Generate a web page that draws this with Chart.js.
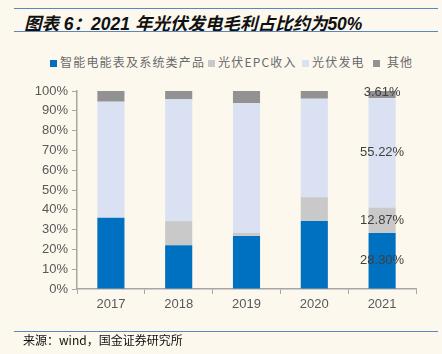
<!DOCTYPE html>
<html>
<head>
<meta charset="utf-8">
<script src="https://cdn.jsdelivr.net/npm/chart.js@4"></script>
<style>
  html, body { margin: 0; padding: 0; }
  body { width: 442px; height: 354px; background: #fcf8ee; position: relative; overflow: hidden;
         font-family: "Liberation Sans", "Noto Sans CJK SC", sans-serif; }
  .rule { position: absolute; left: 14px; width: 424px; height: 0; border-top: 1.5px solid #5b86c4; }
  #title { position: absolute; left: 24px; top: 10px; font-size: 17.5px; font-weight: bold; font-style: italic;
           font-family: "Liberation Sans", "Noto Sans CJK SC", sans-serif; color: #111; white-space: nowrap; }
  .lg { position: absolute; top: 53px; font-size: 12px; letter-spacing: 1.2px; color: #6a6a6a;
        font-family: "Noto Sans CJK SC", sans-serif; white-space: nowrap; }
  .lg i { display: inline-block; width: 7px; height: 7px; margin-right: 3px; vertical-align: 0px; }
  #source { position: absolute; left: 23px; top: 331px; font-size: 12px; color: #111;
            font-family: "Noto Sans CJK SC", sans-serif; white-space: nowrap; }
  #wrap { position: absolute; left: 0; top: 0; width: 442px; height: 354px; }
</style>
</head>
<body>
<div class="rule" style="top:8px"></div>
<div id="title">图表 6：2021 年光伏发电毛利占比约为50%</div>
<div class="rule" style="top:31px"></div>
<div id="legend"></div>
<div id="wrap"><canvas id="chart" width="442" height="354"></canvas></div>
<div class="rule" style="top:331px"></div>
<div id="source">来源：wind，国金证券研究所</div>

<script>
// Categories and series (share of gross profit, %)
const years = ['2017', '2018', '2019', '2020', '2021'];
const meterShare = [36.0, 22.1, 26.8, 34.3, 28.30];
const epcShare = [0, 12.2, 1.5, 12.1, 12.87];
const pvShare = [58.6, 61.5, 65.5, 49.7, 55.22];
const otherShare = [5.4, 4.2, 6.2, 3.9, 3.61];
const seriesNames = ['智能电能表及系统类产品', '光伏EPC收入', '光伏发电', '其他'];
const seriesColors = ['#0070c0', '#c9c9c9', '#dae1f3', '#929292'];
const yTicks = [0, 10, 20, 30, 40, 50, 60, 70, 80, 90, 100];

// HTML legend, placed like the original
const legendX = [50, 208, 302, 373];
const legendEl = document.getElementById('legend');
seriesNames.forEach((name, i) => {
  const d = document.createElement('div');
  d.className = 'lg';
  d.style.left = legendX[i] + 'px';
  d.innerHTML = '<i style="background:' + seriesColors[i] + '"></i>' + (i === 3 ? ' ' : '') + name;
  legendEl.appendChild(d);
});

// Labels only on the last bar
const lastBarLabels = {
  id: 'lastBarLabels',
  afterDatasetsDraw(chart) {
    const ctx = chart.ctx;
    const idx = years.length - 1;
    ctx.save();
    ctx.font = '13px "Liberation Sans", Arial, sans-serif';
    ctx.fillStyle = '#404040';
    ctx.textAlign = 'center';
    ctx.textBaseline = 'middle';
    chart.data.datasets.forEach((ds, i) => {
      const bar = chart.getDatasetMeta(i).data[idx];
      const v = ds.data[idx];
      if (!bar || !v) return;
      const y = (bar.y + bar.base) / 2;
      ctx.fillText(v.toFixed(2) + '%', bar.x, i === 3 ? y - 2 : y);
    });
    ctx.restore();
  }
};

const datasets = [meterShare, epcShare, pvShare, otherShare].map((data, i) => ({
  label: seriesNames[i],
  data,
  backgroundColor: seriesColors[i],
  borderWidth: 0,
  categoryPercentage: 1,
  barPercentage: 0.4
}));

const axisColor = '#a6a6a6';
const tickFont = { family: '"Liberation Sans", Arial, sans-serif', size: 13 };

new Chart(document.getElementById('chart').getContext('2d'), {
  type: 'bar',
  data: { labels: years, datasets },
  options: {
    responsive: false,
    animation: false,
    layout: { padding: { left: 0, right: 26, top: 91, bottom: 0 } },
    plugins: { legend: { display: false }, tooltip: { enabled: false } },
    scales: {
      x: {
        stacked: true,
        grid: { offset: true, drawOnChartArea: false, tickLength: 5, color: axisColor },
        border: { color: axisColor, width: 1.5 },
        ticks: { color: '#595959', font: tickFont, padding: 3 },
        afterFit: s => { s.height = 65; }
      },
      y: {
        stacked: true,
        min: 0,
        max: 100,
        grid: { drawOnChartArea: false, tickLength: 5, color: axisColor },
        border: { color: axisColor, width: 1.5 },
        afterBuildTicks: s => { s.ticks = yTicks.map(v => ({ value: v })); },
        ticks: { color: '#595959', font: tickFont, padding: 4, callback: v => v + '%' },
        afterFit: s => { s.width = 77; }
      }
    }
  },
  plugins: [lastBarLabels]
});
</script>
</body>
</html>
